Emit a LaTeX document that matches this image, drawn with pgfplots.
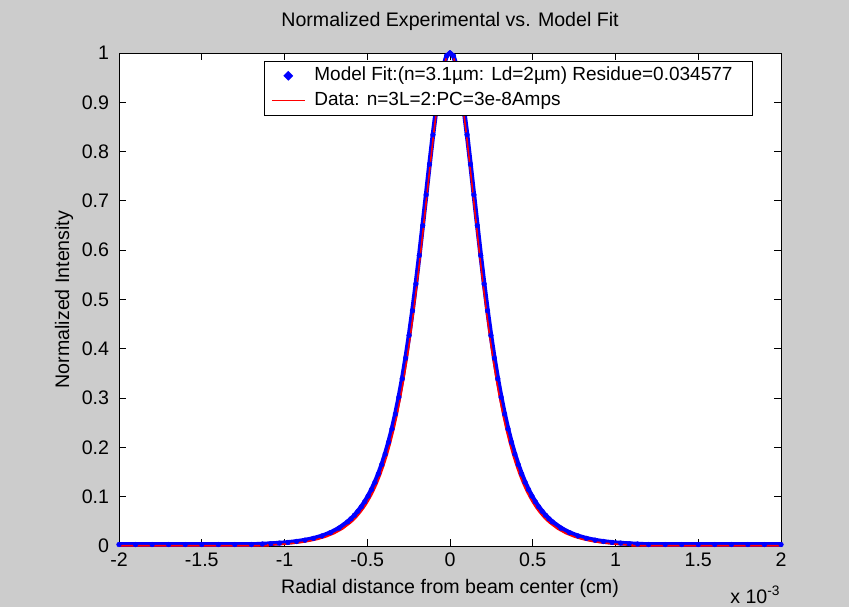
\documentclass[border=0pt]{standalone}
\usepackage{pgfplots}
\pgfplotsset{compat=1.18}
\usepackage{fontspec}
\setmainfont{Liberation Sans}
\definecolor{figgray}{RGB}{204,204,204}

% Model fit (dots) and measured profile (line); x in units of 1e-3 cm
\pgfplotstableread{
x v
-2.00 0.003
-1.90 0.003
-1.80 0.003
-1.70 0.003
-1.60 0.003
-1.50 0.003
-1.40 0.003
-1.30 0.003
-1.20 0.003
-1.1341 0.004
-1.0826 0.0048
-1.0310 0.0059
-0.9795 0.0073
-0.9279 0.0092
-0.8764 0.0119
-0.8248 0.0155
-0.7733 0.0204
-0.7217 0.0272
-0.6702 0.0364
-0.6186 0.0490
-0.5980 0.0553
-0.5774 0.0623
-0.5567 0.0704
-0.5361 0.0794
-0.5155 0.0897
-0.4949 0.1013
-0.4743 0.1145
-0.4536 0.1293
-0.4330 0.1461
-0.4124 0.1651
-0.3918 0.1864
-0.3712 0.2105
-0.3505 0.2375
-0.3299 0.2678
-0.3093 0.3017
-0.2887 0.3394
-0.2681 0.3811
-0.2474 0.4271
-0.2268 0.4773
-0.2062 0.5315
-0.1856 0.5894
-0.1650 0.6501
-0.1443 0.7123
-0.1237 0.7744
-0.1031 0.8341
-0.0825 0.8888
-0.0619 0.9356
-0.0412 0.9715
-0.0206 0.9942
0 1
0.0206 0.9942
0.0412 0.9715
0.0619 0.9356
0.0825 0.8888
0.1031 0.8341
0.1237 0.7744
0.1443 0.7123
0.1650 0.6501
0.1856 0.5894
0.2062 0.5315
0.2268 0.4773
0.2474 0.4271
0.2681 0.3811
0.2887 0.3394
0.3093 0.3017
0.3299 0.2678
0.3505 0.2375
0.3712 0.2105
0.3918 0.1864
0.4124 0.1651
0.4330 0.1461
0.4536 0.1293
0.4743 0.1145
0.4949 0.1013
0.5155 0.0897
0.5361 0.0794
0.5567 0.0704
0.5774 0.0623
0.5980 0.0553
0.6186 0.0490
0.6702 0.0364
0.7217 0.0272
0.7733 0.0204
0.8248 0.0155
0.8764 0.0119
0.9279 0.0092
0.9795 0.0073
1.0310 0.0059
1.0826 0.0048
1.1341 0.004
1.20 0.003
1.30 0.003
1.40 0.003
1.50 0.003
1.60 0.003
1.70 0.003
1.80 0.003
1.90 0.003
2.00 0.003
}\modelfit

\pgfplotstableread{
x v
-2.00 0.0005
-1.10 0.0005
-1.10 0.0021
-1.05 0.0028
-1.00 0.0039
-0.95 0.0053
-0.90 0.0072
-0.85 0.0099
-0.80 0.0135
-0.75 0.0184
-0.70 0.0252
-0.65 0.0344
-0.60 0.0470
-0.58 0.0533
-0.56 0.0603
-0.54 0.0684
-0.52 0.0774
-0.50 0.0877
-0.48 0.0993
-0.46 0.1125
-0.44 0.1273
-0.42 0.1441
-0.40 0.1631
-0.38 0.1844
-0.36 0.2085
-0.34 0.2355
-0.32 0.2658
-0.30 0.2997
-0.28 0.3374
-0.26 0.3791
-0.24 0.4251
-0.22 0.4753
-0.20 0.5295
-0.18 0.5874
-0.16 0.6481
-0.14 0.7103
-0.12 0.7724
-0.10 0.8321
-0.08 0.8868
-0.06 0.9336
-0.04 0.9695
-0.02 0.9922
0 1
0.02 0.9922
0.04 0.9695
0.06 0.9336
0.08 0.8868
0.10 0.8321
0.12 0.7724
0.14 0.7103
0.16 0.6481
0.18 0.5874
0.20 0.5295
0.22 0.4753
0.24 0.4251
0.26 0.3791
0.28 0.3374
0.30 0.2997
0.32 0.2658
0.34 0.2355
0.36 0.2085
0.38 0.1844
0.40 0.1631
0.42 0.1441
0.44 0.1273
0.46 0.1125
0.48 0.0993
0.50 0.0877
0.52 0.0774
0.54 0.0684
0.56 0.0603
0.58 0.0533
0.60 0.0470
0.65 0.0344
0.70 0.0252
0.75 0.0184
0.80 0.0135
0.85 0.0099
0.90 0.0072
0.95 0.0053
1.00 0.0039
1.05 0.0028
1.10 0.0021
1.10 0.0005
2.00 0.0005
}\measured

\begin{document}
\fontsize{9.8}{11.8}\selectfont
\begin{tikzpicture}
\fill[figgray] (0pt,0pt) rectangle (424.5pt,303.5pt);
\begin{axis}[
  at={(59.5pt,30.5pt)}, anchor=south west,
  scale only axis, width=331pt, height=246.5pt,
  xmin=-2, xmax=2, ymin=0, ymax=1,
  clip=false,
  axis background/.style={fill=white},
  axis line style={black, line width=0.5pt},
  tick align=inside, tick pos=both,
  major tick length=3.3pt,
  tick style={black, line width=0.5pt},
  xtick={-2,-1.5,-1,-0.5,0,0.5,1,1.5,2},
  xticklabels={-2,-1.5,-1,-0.5,0,0.5,1,1.5,2},
  ytick={0,0.1,0.2,0.3,0.4,0.5,0.6,0.7,0.8,0.9,1},
  yticklabels={0,0.1,0.2,0.3,0.4,0.5,0.6,0.7,0.8,0.9,1},
  yticklabel style={xshift=-1.5pt},
  title={Normalized Experimental vs. Model Fit},
  title style={at={(axis description cs:0.5,1.0304)}, anchor=base},
  xlabel={Radial distance from beam center (cm)},
  every axis x label/.style={at={(axis description cs:0.5,-0.0953)}, anchor=base},
  ylabel={Normalized Intensity},
  every axis y label/.style={at={(axis description cs:-0.0755,0.5)}, rotate=90, anchor=base},
  legend style={at={(axis description cs:0.9577,0.984)}, anchor=north east,
    draw=black, line width=0.5pt, fill=white,
    font=\fontsize{9.5}{11}\selectfont,
    inner xsep=3.5pt, inner ysep=1pt, row sep=0pt,
    nodes={inner xsep=1.5pt, inner ysep=1.5pt, text height=7.2pt, text depth=2.3pt},
    /tikz/every odd column/.append style={column sep=3pt}},
  legend cell align=left,
]
\addplot[blue, line width=2.3pt, mark=*, mark size=1.2pt,
  mark options={line width=0.2pt},
  legend image code/.code={\fill[blue] (0.29cm,0.05pt) circle (0.85pt);}]
  table[x=x, y=v] {\modelfit};
\addlegendentry{Model Fit:(n=3.1µm: Ld=2µm) Residue=0.034577\hspace*{5pt}}
\addplot[red, line width=0.8pt,
  legend image code/.code={\draw[red, line width=0.6pt] (0cm,0cm) -- (0.58cm,0cm);}]
  table[x=x, y=v] {\measured};
\addlegendentry{Data: n=3L=2:PC=3e-8Amps}
\node[anchor=base east, inner sep=0pt] at (axis description cs:1,-0.1156)
  {x 10\textsuperscript{-3}};
\end{axis}
\pgfresetboundingbox
\useasboundingbox (0pt,0pt) rectangle (424.5pt,303.5pt);
\end{tikzpicture}
\end{document}
